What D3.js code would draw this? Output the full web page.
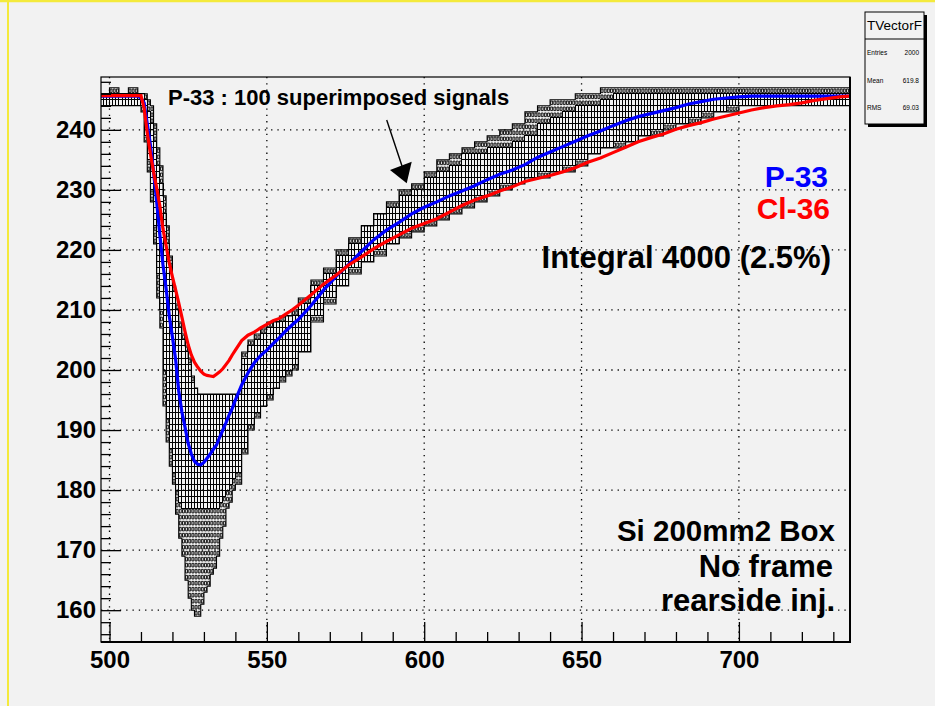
<!DOCTYPE html>
<html><head><meta charset="utf-8">
<script src="https://cdn.jsdelivr.net/npm/d3@7"></script>
<style>body{margin:0;background:#f2f2f2;} svg{display:block;}</style>
</head><body>
<script>
// ---- data (sample position = ADC time bin) ----
const xs = [497,500,503,506,509,510,511,512,513,514,515,516,517,518,519,520,521,522,523,524,525,526,527,528,529,530,531,532,533,534,535,536,537,538,539,540,542,544,546,548,550,552,554,556,558,560,564,568,572,576,580,584,588,592,596,600,604,608,612,616,620,624,628,632,636,640,644,648,652,656,660,664,668,672,676,680,684,688,692,696,700,704,708,712,716,720,724,728,732,735];
// P-33 average signal
const p33 = [245.6,245.6,245.6,245.6,245.6,245.3,244.5,241,237.5,233,228,222.5,217.5,213.5,209,205.5,201.8,196.5,193,190.5,187.8,186,184.8,184.3,184.2,184.6,185.3,186,186.8,187.5,188.8,190,191.2,192.5,193.6,195,197.5,199.5,201.2,202.4,203.3,204.4,205.4,206.5,207.5,208.4,210.7,213.3,215.6,217.6,219.7,221.7,223.3,224.6,226,227.1,228,229,229.8,230.7,231.7,232.6,233.3,234.2,235.4,236.3,237.2,238.1,239,239.8,240.7,241.5,242.2,242.7,243.2,243.7,244.3,244.7,245.1,245.3,245.5,245.6,245.6,245.6,245.6,245.6,245.6,245.6,245.6,245.6];
// Cl-36 average signal
const cl36 = [245.7,245.7,245.7,245.7,245.7,245.7,243.6,239.5,236,233,230.3,227.3,223.5,220.7,217.8,215.5,213.4,211.2,208.8,206.4,204.2,202.5,201.3,200.5,199.8,199.3,199.1,199,198.9,199.3,199.7,200.2,200.9,201.6,202.5,203.3,204.9,205.8,206.3,207,207.6,208.2,208.6,209.3,210,210.8,212.5,214.3,215.8,217.5,218.8,220.2,221.4,222.5,223.6,224.4,225.2,226.3,227.4,228.3,229,229.8,230.5,231.4,231.9,232.4,233,233.7,234.6,235.3,236.2,237.1,238,238.7,239.3,240.1,240.7,241.2,241.8,242.3,242.8,243.3,243.7,244,244.2,244.5,244.9,245.2,245.5,245.6];
// 100 superimposed P-33 signals: envelope (outer) and dense core
const outerHi = [246,247,246,247,246,246,246,245,243.5,241,237,233.5,229,223.5,218.5,214,211,208,206,203.5,201.5,199,197,196,196,196,196,196,196,196,196,196,196,196,196,196,202.5,204.5,205.5,206.5,207.3,208,208.4,209,209.8,211.5,215,217,219.5,222,224,226,227.8,230,231,232.2,234.5,235.5,236.6,237.8,239,239.8,241,242.3,243.5,244.8,245,245.3,245.5,246.2,246.3,246.3,246.3,246.3,246.3,246.3,246.3,246.3,246.3,246.3,246.3,246.3,246.3,246.3,246.3,246.3,246.3,246.3,246.3,246.3];
const coreHi = [246,246,246,246,246,246,245,243,241,238,234,230.5,226,221,216.5,212.5,209.5,207,205,202.5,200.5,198,196.5,195.5,195.5,195.5,195.5,195.5,195.5,195.5,195.5,195.5,195.5,195.5,195.5,195.5,202,204,205,206,207,207.5,208,208.6,209.3,210.5,213.8,216.2,218.5,221.3,223.7,225.6,227.2,228.8,230.4,231.7,233.2,234.3,235.5,236,236.8,237.2,238.3,239.4,240.7,242,243.2,243.7,244.2,245,245.9,246,246,246,246,246,246,246,246,246,246,246,246,246,246,246,246,246,246,246];
const coreLo = [244.5,244.5,244.5,244.5,244.5,244,239.5,235,230,224,216,210,200,192,187,183,180,178,177,177,177,177,177,177,177,177,177,177,177,177,178,179,180,181,182,183,187,191,193,194.5,196,197.5,199,200,201,203.5,209,212,214.5,216.8,218.3,220,221.4,222.6,223.7,224.7,225.8,227,227.9,229,230,230.8,231.5,232.2,232.7,233.3,234.1,235.1,236.2,237.2,237.7,238.4,239.2,240,240.7,241.4,242.1,242.9,243.4,243.9,244.2,244.3,244.3,244.3,244.3,244.3,244.3,244.3,244.3,244.3];
const outerLo = [244,244,244,244,244,243.5,238.5,233.5,228.5,221.5,212.5,207,194,188,184,181,176,172,169.5,165.5,162.5,160.5,159,159.5,161,163,164.5,166,167.5,169.5,172,174.5,177,178.3,180,181.7,186,190,192.5,194,195.3,197,198.5,199.5,200.5,203,208.5,211.5,214,216.5,218,219.8,221.2,222.4,223.5,224.5,225.6,226.9,227.7,228.8,229.8,230.6,231.3,232,232.5,233.1,233.9,234.9,236,237,237.5,238.2,239,239.8,240.5,241.2,241.9,242.7,243.2,243.7,244.1,244.2,244.2,244.2,244.2,244.2,244.2,244.2,244.2,244.2];
const xTickVals = [500,550,600,650,700];
const yTickVals = [160,170,180,190,200,210,220,230,240];
const statsRows = [["Entries","2000"],["Mean","619.8"],["RMS","69.03"]];

// ---- drawing ----
const W = 935, H = 706;
const FONT = "'Liberation Sans', Arial, Helvetica, sans-serif";
const svg = d3.select("body").append("svg").attr("width", W).attr("height", H)
  .style("font-family", FONT);
svg.append("rect").attr("width", W).attr("height", H).attr("fill", "#f2f2f2");
// yellow canvas edge
svg.append("line").attr("x1", 0).attr("x2", W).attr("y1", 1).attr("y2", 1).attr("stroke", "#f4ea3c").attr("stroke-width", 2.5);
svg.append("line").attr("x1", 8).attr("x2", 8).attr("y1", 0).attr("y2", H).attr("stroke", "#f4ea3c").attr("stroke-width", 2);

const m = {l: 101, r: 850, t: 77, b: 642};
const x = d3.scaleLinear().domain([497.3, 735.3]).range([m.l, m.r]);
const y = d3.scaleLinear().domain([154.7, 248.8]).range([m.b, m.t]);

svg.append("defs").append("clipPath").attr("id", "clip")
  .append("rect").attr("x", m.l).attr("y", m.t).attr("width", m.r - m.l).attr("height", m.b - m.t);

// grid
const grid = svg.append("g").attr("stroke", "#000").attr("stroke-width", 1.3)
  .attr("stroke-dasharray", "1.3,5");
grid.selectAll(".gx").data(xTickVals).join("line")
  .attr("x1", d => x(d)).attr("x2", d => x(d)).attr("y1", m.t).attr("y2", m.b);
grid.selectAll(".gy").data(yTickVals).join("line")
  .attr("x1", m.l).attr("x2", m.r).attr("y1", d => y(d)).attr("y2", d => y(d));

// superimposed signals as a box histogram
function colIndex(k) {
  let i = 0;
  while (i + 1 < xs.length && xs[i + 1] <= k) i++;
  return i;
}
let densePath = "", sparsePath = "";
const topPts = [], botPts = [];
for (let k = 497; k < 736; k++) {
  const i = colIndex(k);
  const lo = outerLo[i], hi = outerHi[i], cl = coreLo[i], ch = coreHi[i];
  const x0 = x(k), x1 = x(k + 1);
  const j0 = Math.floor(lo), j1 = Math.ceil(hi);
  topPts.push([k, j1]); botPts.push([k, j0]);
  for (let j = j0; j < j1; j++) {
    const yc0 = y(j + 1), yc1 = y(j);
    const c = j + 0.5;
    if (c >= cl && c <= ch) {
      densePath += `M${x0.toFixed(2)},${yc0.toFixed(2)}H${x1.toFixed(2)}V${yc1.toFixed(2)}H${x0.toFixed(2)}Z`;
    } else {
      const f = 0.6;
      const cx = (x0 + x1) / 2, cy = (yc0 + yc1) / 2;
      const hw = (x1 - x0) * f / 2, hh = (yc1 - yc0) * f / 2;
      sparsePath += `M${(cx - hw).toFixed(2)},${(cy - hh).toFixed(2)}H${(cx + hw).toFixed(2)}V${(cy + hh).toFixed(2)}H${(cx - hw).toFixed(2)}Z`;
    }
  }
}
topPts.push([736, topPts[topPts.length - 1][1]]);
botPts.push([736, botPts[botPts.length - 1][1]]);
const boxes = svg.append("g").attr("clip-path", "url(#clip)");
boxes.append("path").attr("d", densePath).attr("fill", "none").attr("stroke", "#000")
  .attr("stroke-width", 1).attr("shape-rendering", "crispEdges");
boxes.append("path").attr("d", sparsePath).attr("fill", "none").attr("stroke", "#000").attr("stroke-width", 0.9);
const stair = d3.line().x(d => x(d[0])).y(d => y(d[1])).curve(d3.curveStepAfter);
boxes.append("path").attr("d", stair(topPts)).attr("fill", "none").attr("stroke", "#000").attr("stroke-width", 1.1);
boxes.append("path").attr("d", stair(botPts)).attr("fill", "none").attr("stroke", "#000").attr("stroke-width", 1.1);

// average signals
const lineGen = arr => d3.line().x((d, i) => x(xs[i])).y(d => y(d))(arr);
const lines = svg.append("g").attr("clip-path", "url(#clip)");
lines.append("path").attr("d", lineGen(p33)).attr("fill", "none").attr("stroke", "#0000ff").attr("stroke-width", 3.2).attr("stroke-linejoin", "miter");
lines.append("path").attr("d", lineGen(cl36)).attr("fill", "none").attr("stroke", "#ff0000").attr("stroke-width", 3.2).attr("stroke-linejoin", "miter");

// frame
svg.append("rect").attr("x", m.l).attr("y", m.t).attr("width", m.r - m.l).attr("height", m.b - m.t)
  .attr("fill", "none").attr("stroke", "#000").attr("stroke-width", 1.2);
svg.append("line").attr("x1", m.l).attr("x2", m.r + 1).attr("y1", m.b).attr("y2", m.b).attr("stroke", "#000").attr("stroke-width", 2);
svg.append("line").attr("x1", m.r).attr("x2", m.r).attr("y1", m.t).attr("y2", m.b).attr("stroke", "#000").attr("stroke-width", 2);

// axes
const xMinor = d3.range(500, 736, 10).filter(v => !xTickVals.includes(v));
const yMinor = d3.range(156, 249, 2).filter(v => !yTickVals.includes(v));
const xa = svg.append("g").attr("transform", `translate(0,${m.b})`)
  .call(d3.axisBottom(x).tickValues(xTickVals).tickSize(-20).tickPadding(9).tickFormat(d3.format("d")));
xa.select(".domain").remove();
xa.selectAll("text").attr("font-size", 24).attr("font-weight", "bold").attr("font-family", FONT).attr("fill", "#000");
xa.selectAll("line").attr("stroke-width", 1.3);
const xm = svg.append("g").attr("transform", `translate(0,${m.b})`)
  .call(d3.axisBottom(x).tickValues(xMinor).tickSize(-10).tickFormat(""));
xm.select(".domain").remove();
xm.selectAll("line").attr("stroke-width", 1.3);
const ya = svg.append("g").attr("transform", `translate(${m.l},0)`)
  .call(d3.axisLeft(y).tickValues(yTickVals).tickSize(-20).tickPadding(5).tickFormat(d3.format("d")));
ya.select(".domain").remove();
ya.selectAll("text").attr("font-size", 24).attr("font-weight", "bold").attr("font-family", FONT).attr("fill", "#000");
ya.selectAll("line").attr("stroke-width", 1.3);
const ym = svg.append("g").attr("transform", `translate(${m.l},0)`)
  .call(d3.axisLeft(y).tickValues(yMinor).tickSize(-10).tickFormat(""));
ym.select(".domain").remove();
ym.selectAll("line").attr("stroke-width", 1.3);

// annotations
const txt = (s, tx, ty, size, color, anchor) => svg.append("text").text(s)
  .attr("x", tx).attr("y", ty).attr("font-size", size).attr("font-weight", "bold")
  .attr("fill", color).attr("text-anchor", anchor || "start");
txt("P-33 : 100 superimposed signals", 168, 105, 22, "#000");
svg.append("line").attr("x1", 386.7).attr("y1", 120).attr("x2", 402).attr("y2", 166).attr("stroke", "#000").attr("stroke-width", 1.4);
svg.append("path").attr("d", "M390,170L411.7,161.7L406.7,183.3Z").attr("fill", "#000");
txt("P-33", 828, 187, 30, "#0000ff", "end");
txt("Cl-36", 830, 219, 30, "#ff0000", "end");
txt("Integral 4000 (2.5%)", 831, 268, 31, "#000", "end");
txt("Si 200mm2 Box", 835, 541, 29.5, "#000", "end");
txt("No frame", 833, 577, 31, "#000", "end");
txt("rearside inj.", 835, 611, 31, "#000", "end");

// stats box
const sb = svg.append("g");
sb.append("rect").attr("x", 868).attr("y", 15).attr("width", 59).attr("height", 112).attr("fill", "#000");
sb.append("rect").attr("x", 865).attr("y", 12).attr("width", 59).attr("height", 112).attr("fill", "#f2f2f2").attr("stroke", "#000").attr("stroke-width", 1);
sb.append("line").attr("x1", 865).attr("x2", 924).attr("y1", 39).attr("y2", 39).attr("stroke", "#000").attr("stroke-width", 1);
sb.append("text").text("TVectorF").attr("x", 894.5).attr("y", 30).attr("text-anchor", "middle").attr("font-size", 13.5).attr("fill", "#000");
sb.selectAll(".sr").data(statsRows).join("g").each(function(d, i) {
  const g = d3.select(this);
  const yy = 55 + i * 27.5;
  g.append("text").text(d[0]).attr("x", 867).attr("y", yy).attr("font-size", 6.5).attr("fill", "#000");
  g.append("text").text(d[1]).attr("x", 919).attr("y", yy).attr("font-size", 6.5).attr("fill", "#000").attr("text-anchor", "end");
});
</script>
</body></html>
